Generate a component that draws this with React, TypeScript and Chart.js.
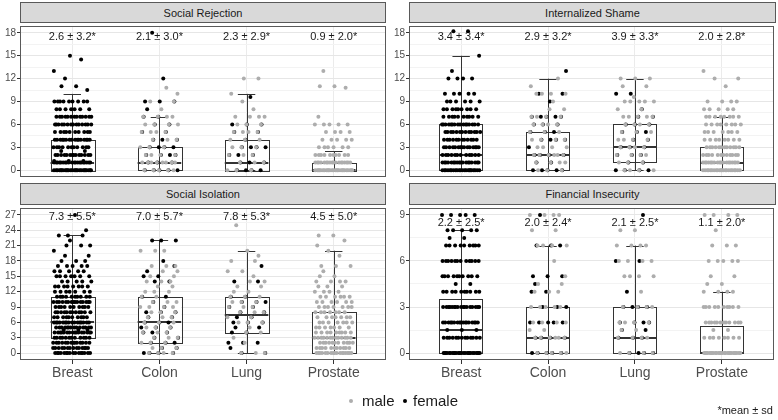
import React, { useEffect, useRef } from 'react';
import { Chart, registerables } from 'chart.js';

Chart.register(...registerables);

const FONT = "'Liberation Sans', Arial, sans-serif";

// ---------- data ----------
const categories = ['Breast', 'Colon', 'Lung', 'Prostate'];

type Pair = [number, number]; // [score, number of patients]

// Social Rejection
const rejectionFemale: Pair[][] = [
  [[0, 26], [1, 20], [1.2, 3], [2, 14], [2.5, 2], [3, 11], [4, 16], [5, 10], [6, 14], [7, 13], [8, 7], [9, 9], [10.5, 1], [11, 2], [12, 1], [13, 1], [14.5, 1], [15, 1]],
  [[0, 5], [1, 3], [2, 4], [3, 4], [4, 3], [5, 2], [6, 2], [7, 2], [8, 1], [9, 3], [12, 1], [18, 1]],
  [[0, 4], [1, 3], [2, 3], [3, 4], [4, 1], [5, 2], [6, 3], [9.6, 1]],
  [],
];
const rejectionMale: Pair[][] = [
  [],
  [[0, 5], [1, 8], [2, 4], [3, 3], [4, 3], [5, 4], [6, 4], [7, 4], [8, 1], [9, 2], [10, 1], [10.8, 1]],
  [[0, 3], [1, 3], [2, 3], [3, 3], [4, 3], [5, 4], [6, 3], [7, 4], [8, 1], [9, 1], [10, 1], [12, 2]],
  [[0, 26], [1, 18], [2, 10], [3, 6], [4, 5], [5, 4], [6, 5], [7, 1], [10.8, 1], [11, 2], [13, 1]],
];
const rejectionQ1 = [0, 0, 0, 0];
const rejectionMedian = [1, 1, 1, 0];
const rejectionQ3 = [4, 3, 4, 1];
const rejectionLow = [0, 0, 0, 0];
const rejectionHigh = [10, 7, 10, 2.5];
const rejectionLabels = ['2.6 ± 3.2*', '2.1 ± 3.0*', '2.3 ± 2.9*', '0.9 ± 2.0*'];
const rejectionTicks = [0, 3, 6, 9, 12, 15, 18];

// Internalized Shame
const shameFemale: Pair[][] = [
  [[0, 22], [1, 18], [2, 12], [3, 15], [4, 12], [5, 13], [6, 16], [7, 10], [8, 9], [9, 6], [10, 5], [12, 4], [13, 1], [15, 1], [18.2, 2]],
  [[0, 5], [1, 2], [2, 4], [3, 1], [4, 4], [5, 3], [6, 3], [7, 5], [9, 1], [10, 2], [13, 1]],
  [[0, 4], [1, 2], [2, 3], [3, 3], [4, 2], [5, 3], [6, 3], [7, 2], [8, 1], [10, 2]],
  [],
];
const shameMale: Pair[][] = [
  [],
  [[0, 3], [1, 4], [2, 6], [3, 4], [4, 4], [5, 3], [6, 4], [7, 4], [8, 2], [9, 1], [10, 4], [11, 1], [12, 1]],
  [[0, 4], [1, 3], [2, 4], [3, 4], [4, 4], [5, 3], [6, 4], [7, 5], [8, 2], [9, 5], [9.6, 1], [11, 2], [12, 3]],
  [[0, 22], [1, 18], [2, 12], [3, 12], [4, 8], [5, 7], [6, 8], [7, 8], [8, 5], [9, 4], [11, 1], [12, 2], [13, 1]],
];
const shameQ1 = [0, 0, 1, 0];
const shameMedian = [2, 2, 3, 1];
const shameQ3 = [6, 5, 6, 3];
const shameLow = [0, 0, 0, 0];
const shameHigh = [15, 12, 12, 7];
const shameLabels = ['3.4 ± 3.4*', '2.9 ± 3.2*', '3.9 ± 3.3*', '2.0 ± 2.8*'];
const shameTicks = [0, 3, 6, 9, 12, 15, 18];

// Social Isolation
const isolationFemale: Pair[][] = [
  [[0, 16], [1, 14], [2, 14], [3, 12], [4, 16], [4.5, 3], [5, 14], [6, 16], [7, 10], [8, 12], [9, 10], [10, 15], [11, 10], [12, 7], [13, 8], [14, 5], [15, 7], [16, 5], [17, 5], [18, 3], [19, 2], [20, 1], [21, 3], [22, 1], [23, 3], [24, 1], [27, 1]],
  [[0, 4], [1, 2], [2, 3], [3, 2], [4, 3], [5, 3], [6, 3], [7, 2], [8, 3], [9, 1], [10, 1], [11, 2], [14, 2], [15, 2], [16, 1], [17, 1], [18, 1], [22, 3]],
  [[0, 2], [1, 1], [2, 3], [4, 2], [5, 2], [6, 3], [7, 2], [8, 2], [9, 2], [10, 3], [11, 2], [14, 2], [17, 1]],
  [],
];
const isolationMale: Pair[][] = [
  [],
  [[0, 4], [1, 3], [2, 3], [3, 3], [4, 3], [5, 3], [6, 3], [7, 3], [8, 3], [9, 4], [10, 3], [11, 2], [12, 3], [13, 2], [14, 3], [15, 2], [16, 2], [17, 3], [20, 3]],
  [[0, 3], [2, 1], [3, 1], [4, 2], [5, 1], [6, 3], [7, 2], [8, 3], [9, 3], [10, 3], [11, 3], [12, 2], [13, 2], [14, 2], [15, 1], [16, 2], [18, 2], [19, 1], [20, 1], [25, 1]],
  [[0, 17], [1, 11], [2, 11], [3, 13], [4, 9], [5, 7], [6, 7], [7, 7], [8, 7], [9, 7], [10, 6], [11, 6], [12, 4], [13, 3], [14, 4], [15, 2], [16, 1], [17, 3], [19, 1], [20, 1], [21, 1], [22, 1], [23, 2]],
];
const isolationQ1 = [3, 2, 4, 0];
const isolationMedian = [6, 6, 7.5, 3];
const isolationQ3 = [11, 11, 11, 8];
const isolationLow = [0, 0, 0, 0];
const isolationHigh = [23, 22, 20, 20];
const isolationLabels = ['7.3 ± 5.5*', '7.0 ± 5.7*', '7.8 ± 5.3*', '4.5 ± 5.0*'];
const isolationTicks = [0, 3, 6, 9, 12, 15, 18, 21, 24, 27];

// Financial Insecurity
const financialFemale: Pair[][] = [
  [[0, 26], [1, 13], [1.5, 3], [2, 17], [3, 17], [4, 10], [4.5, 2], [5, 10], [6, 12], [7, 9], [7.5, 2], [8, 5], [9, 5]],
  [[0, 5], [1, 4], [2, 5], [3, 3], [4, 2], [4.5, 1], [5, 3], [7, 3], [9, 1]],
  [[0, 4], [1, 3], [1.5, 2], [2, 4], [3, 4], [4, 1], [6, 2], [9, 1]],
  [],
];
const financialMale: Pair[][] = [
  [],
  [[0, 5], [1, 6], [1.5, 2], [2, 4], [3, 5], [4, 3], [4.5, 2], [5, 1], [6, 1], [7, 4], [8, 2], [9, 4]],
  [[0, 4], [1, 4], [1.5, 2], [2, 4], [3, 4], [4, 1], [5, 4], [6, 4], [7, 4], [8, 2]],
  [[0, 26], [1, 8], [1.5, 2], [2, 12], [3, 10], [4, 4], [4.5, 2], [5, 2], [6, 5], [7, 3], [8, 1], [9, 4]],
];
const financialQ1 = [0, 0, 0, 0];
const financialMedian = [1.5, 1, 1, 0];
const financialQ3 = [3.5, 3, 3, 1.75];
const financialLow = [0, 0, 0, 0];
const financialHigh = [8, 7, 7, 4];
const financialLabels = ['2.2 ± 2.5*', '2.0 ± 2.4*', '2.1 ± 2.5*', '1.1 ± 2.0*'];
const financialTicks = [0, 3, 6, 9];

// ---------- helpers ----------
function jitterPoints(groups: Pair[][], seed: number) {
  const pts: { x: number; y: number }[] = [];
  groups.forEach((g, ci) => {
    g.forEach(([v, n], li) => {
      for (let k = 0; k < n; k++) {
        const u = (seed * 0.37 + ci * 0.13 + li * 0.71 + k * 0.618034) % 1;
        pts.push({ x: ci + 1 + (u - 0.5) * 0.44, y: v });
      }
    });
  });
  return pts;
}

type PanelCfg = {
  title: string;
  female: Pair[][];
  male: Pair[][];
  q1: number[];
  median: number[];
  q3: number[];
  low: number[];
  high: number[];
  labels: string[];
  ticks: number[];
  seed: number;
  left: number;
  top: number;
  axisW: number;
  padRight: number;
  bottom: boolean;
  stripTop: number;
  stripH: number;
};

function Panel({ cfg }: { cfg: PanelCfg }) {
  const ref = useRef<HTMLCanvasElement>(null);
  const height = cfg.bottom ? 180 : 160;
  useEffect(() => {
    const maxTick = cfg.ticks[cfg.ticks.length - 1];
    const expand = maxTick * 0.05;
    const allTicks: number[] = [];
    cfg.ticks.forEach((t, i) => {
      allTicks.push(t);
      if (i < cfg.ticks.length - 1) allTicks.push((t + cfg.ticks[i + 1]) / 2);
    });
    const isMajor = (v: number) => cfg.ticks.indexOf(v) >= 0;
    const labelY = maxTick - 0.5;

    const decor = {
      id: 'decor',
      beforeDatasetsDraw(chart: any) {
        const { ctx, chartArea, scales } = chart;
        const x = scales.x;
        const y = scales.y;
        ctx.save();
        ctx.beginPath();
        ctx.rect(chartArea.left, chartArea.top, chartArea.right - chartArea.left, chartArea.bottom - chartArea.top);
        ctx.clip();
        for (let i = 0; i < categories.length; i++) {
          const cx = x.getPixelForValue(i + 1);
          const half = x.getPixelForValue(i + 1.25) - cx;
          const capHalf = x.getPixelForValue(i + 1.1) - cx;
          const yq1 = y.getPixelForValue(cfg.q1[i]);
          const yq3 = y.getPixelForValue(cfg.q3[i]);
          const ymed = y.getPixelForValue(cfg.median[i]);
          const ylo = y.getPixelForValue(cfg.low[i]);
          const yhi = y.getPixelForValue(cfg.high[i]);
          ctx.fillStyle = '#ffffff';
          ctx.fillRect(cx - half, yq3, half * 2, yq1 - yq3);
          ctx.strokeStyle = '#333333';
          ctx.lineWidth = 1;
          ctx.strokeRect(Math.round(cx - half) + 0.5, Math.round(yq3) + 0.5, Math.round(half * 2), Math.round(yq1 - yq3));
          ctx.beginPath();
          ctx.moveTo(Math.round(cx) + 0.5, ylo);
          ctx.lineTo(Math.round(cx) + 0.5, yhi);
          ctx.moveTo(cx - capHalf, Math.round(yhi) + 0.5);
          ctx.lineTo(cx + capHalf, Math.round(yhi) + 0.5);
          ctx.moveTo(cx - capHalf, Math.round(ylo) + 0.5);
          ctx.lineTo(cx + capHalf, Math.round(ylo) + 0.5);
          ctx.stroke();
          ctx.lineWidth = 2;
          ctx.beginPath();
          ctx.moveTo(cx - half, Math.round(ymed));
          ctx.lineTo(cx + half, Math.round(ymed));
          ctx.stroke();
          ctx.font = `11px ${FONT}`;
          ctx.fillStyle = '#1a1a1a';
          ctx.textAlign = 'center';
          ctx.textBaseline = 'middle';
          ctx.fillText(cfg.labels[i], cx, y.getPixelForValue(labelY));
        }
        ctx.restore();
      },
      afterDraw(chart: any) {
        const { ctx, chartArea } = chart;
        ctx.save();
        ctx.strokeStyle = '#595959';
        ctx.lineWidth = 1;
        ctx.strokeRect(chartArea.left + 0.5, chartArea.top + 0.5, chartArea.right - chartArea.left - 1, chartArea.bottom - chartArea.top - 1);
        ctx.restore();
      },
    };

    const chart = new Chart(ref.current as HTMLCanvasElement, {
      type: 'scatter',
      data: {
        datasets: [
          {
            label: 'male',
            data: jitterPoints(cfg.male, cfg.seed + 1),
            pointRadius: 2,
            pointBackgroundColor: '#adadad',
            pointBorderWidth: 0,
          },
          {
            label: 'female',
            data: jitterPoints(cfg.female, cfg.seed),
            pointRadius: 2,
            pointBackgroundColor: '#000000',
            pointBorderWidth: 0,
          },
        ],
      },
      options: {
        responsive: false,
        animation: false,
        events: [],
        layout: { padding: { left: 0, right: cfg.padRight, top: 0, bottom: cfg.bottom ? 0 : 5 } },
        plugins: { legend: { display: false }, tooltip: { enabled: false } },
        scales: {
          x: {
            type: 'linear',
            min: 0.4,
            max: 4.6,
            afterBuildTicks: (s: any) => {
              s.ticks = categories.map((_, i) => ({ value: i + 1 }));
            },
            afterFit: (s: any) => {
              s.height = cfg.bottom ? 24 : 0;
              s.paddingLeft = 0;
              s.paddingRight = 0;
            },
            ticks: {
              display: cfg.bottom,
              autoSkip: false,
              maxRotation: 0,
              padding: 1,
              color: '#4d4d4d',
              font: { family: FONT, size: 14 },
              callback: (v: any) => categories[Math.round(v) - 1],
            },
            grid: {
              color: '#ebebeb',
              lineWidth: 1,
              drawTicks: cfg.bottom,
              tickLength: 4,
              tickColor: '#333333',
            },
            border: { display: false },
          },
          y: {
            type: 'linear',
            min: -expand,
            max: maxTick + expand,
            afterBuildTicks: (s: any) => {
              s.ticks = allTicks.map((v) => ({ value: v }));
            },
            afterFit: (s: any) => {
              s.width = cfg.axisW;
              s.paddingTop = 0;
              s.paddingBottom = 0;
            },
            ticks: {
              autoSkip: false,
              padding: 1,
              color: '#4d4d4d',
              font: { family: FONT, size: 10 },
              callback: (v: any) => (isMajor(v) ? String(v) : ''),
            },
            grid: {
              lineWidth: 1,
              color: (c: any) => (c.tick && isMajor(c.tick.value) ? '#e6e6e6' : '#f3f3f3'),
              tickLength: 3,
              tickColor: (c: any) => (c.tick && isMajor(c.tick.value) ? '#333333' : 'rgba(0,0,0,0)'),
            },
            border: { display: false },
          },
        },
      },
      plugins: [decor],
    } as any);
    return () => chart.destroy();
  }, []);

  const stripLeft = cfg.left + cfg.axisW;
  const stripWidth = 390 - cfg.axisW - cfg.padRight;
  return (
    <>
      <div
        style={{
          position: 'absolute',
          left: stripLeft,
          top: cfg.stripTop,
          width: stripWidth,
          height: cfg.stripH,
          boxSizing: 'border-box',
          background: '#d9d9d9',
          border: '1px solid #595959',
          font: `11px ${FONT}`,
          color: '#1a1a1a',
          display: 'flex',
          alignItems: 'center',
          justifyContent: 'center',
        }}
      >
        {cfg.title}
      </div>
      <canvas
        ref={ref}
        width={390}
        height={height}
        style={{ position: 'absolute', left: cfg.left, top: cfg.top, width: 390, height }}
      />
    </>
  );
}

const panels: PanelCfg[] = [
  {
    title: 'Social Rejection', female: rejectionFemale, male: rejectionMale,
    q1: rejectionQ1, median: rejectionMedian, q3: rejectionQ3, low: rejectionLow, high: rejectionHigh,
    labels: rejectionLabels, ticks: rejectionTicks, seed: 1,
    left: 0, top: 22, axisW: 20, padRight: 4, bottom: false, stripTop: 2, stripH: 21,
  },
  {
    title: 'Internalized Shame', female: shameFemale, male: shameMale,
    q1: shameQ1, median: shameMedian, q3: shameQ3, low: shameLow, high: shameHigh,
    labels: shameLabels, ticks: shameTicks, seed: 2,
    left: 388, top: 22, axisW: 21, padRight: 2, bottom: false, stripTop: 2, stripH: 21,
  },
  {
    title: 'Social Isolation', female: isolationFemale, male: isolationMale,
    q1: isolationQ1, median: isolationMedian, q3: isolationQ3, low: isolationLow, high: isolationHigh,
    labels: isolationLabels, ticks: isolationTicks, seed: 3,
    left: 0, top: 204, axisW: 20, padRight: 4, bottom: true, stripTop: 183, stripH: 22,
  },
  {
    title: 'Financial Insecurity', female: financialFemale, male: financialMale,
    q1: financialQ1, median: financialMedian, q3: financialQ3, low: financialLow, high: financialHigh,
    labels: financialLabels, ticks: financialTicks, seed: 4,
    left: 388, top: 204, axisW: 21, padRight: 2, bottom: true, stripTop: 183, stripH: 22,
  },
];

export default function App() {
  const dot = (left: number, color: string) => (
    <div
      style={{
        position: 'absolute', left: left - 2, top: 399, width: 4, height: 4,
        borderRadius: '50%', background: color,
      }}
    />
  );
  const text = (left: number, s: string) => (
    <div style={{ position: 'absolute', left, top: 392, font: `15px ${FONT}`, lineHeight: '17px', color: '#1a1a1a', whiteSpace: 'nowrap' }}>{s}</div>
  );
  return (
    <div style={{ position: 'absolute', left: 0, top: 0, width: 778, height: 420, background: '#ffffff', overflow: 'hidden' }}>
      {panels.map((p) => (
        <Panel key={p.title} cfg={p} />
      ))}
      {dot(351, '#adadad')}
      {text(362, 'male')}
      {dot(405, '#000000')}
      {text(413, 'female')}
      <div
        style={{
          position: 'absolute', right: 5, top: 404, font: `11px ${FONT}`, lineHeight: '13px',
          color: '#1a1a1a', whiteSpace: 'nowrap',
        }}
      >
        *mean ± sd
      </div>
    </div>
  );
}
